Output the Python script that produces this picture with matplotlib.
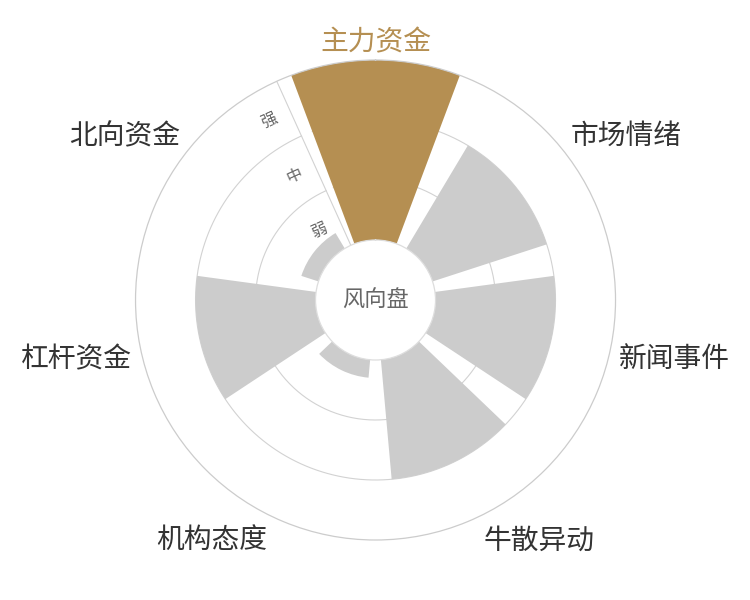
"""
风向盘 rose chart (polar bars, 7 signal categories).
"""
import numpy as np
import matplotlib
matplotlib.use("Agg")
import matplotlib.pyplot as plt

plt.rcParams["font.family"] = ["Noto Sans CJK SC", "DejaVu Sans"]

categories = ["主力资金", "市场情绪", "新闻事件", "牛散异动", "机构态度", "杠杆资金", "北向资金"]
values = [3.0, 2.0, 2.0, 2.0, 0.3, 2.0, 0.3]
highlight = "主力资金"
level_labels = ["弱", "中", "强"]

GOLD = "#b58f52"
GRAY_BAR = "#cccccc"
GRID = "#d2d2d2"
TEXT = "#333333"

n = len(categories)
step = 2 * np.pi / n
theta = np.arange(n) * step
bar_w = 0.8 * step
axis_theta = np.radians(-24.3)      # radius axis drawn just left of the top bar
rmax = 3
label_r = rmax + 10 / 60

fig = plt.figure(figsize=(7.5, 6), dpi=100)
ax = fig.add_axes([0.1807, 0.1, 0.64, 0.8], projection="polar")
ax.set_theta_zero_location("N")
ax.set_theta_direction(-1)
ax.set_rorigin(-1)
ax.set_ylim(0, rmax)
ax.set_xticks([])
ax.set_yticks([])
ax.grid(False)
ax.spines["polar"].set_color("#cccccc")
ax.spines["polar"].set_linewidth(0.9)
ax.spines["inner"].set_color("#dddddd")
ax.spines["inner"].set_linewidth(0.9)

# grid arcs (left open between the radius axis and the first bar)
arc_t = np.linspace(-bar_w / 2, axis_theta + 2 * np.pi, 400)
for r in range(1, rmax):
    ax.plot(arc_t, np.full_like(arc_t, r), color=GRID, lw=0.8, zorder=1)
ax.plot([axis_theta, axis_theta], [0, rmax], color=GRID, lw=0.8, zorder=1)

colors = [GOLD if c == highlight else GRAY_BAR for c in categories]
ax.bar(theta, values, width=bar_w, bottom=0, color=colors, edgecolor="none",
       linewidth=0, zorder=2)

# level labels along the radius axis
rot = 24.3
for i, lab in enumerate(level_labels):
    ax.annotate(lab, xy=(axis_theta, i + 0.45), xytext=(-15.0, -6.8),
                textcoords="offset points", ha="center", va="center",
                rotation=rot, fontsize=11.5, color="#666666", zorder=3)

# category labels around the outside
for t, cat in zip(theta, categories):
    sx, cy = np.sin(t), np.cos(t)
    ha = "center" if abs(sx) < 0.3 else ("left" if sx > 0 else "right")
    va = "center_baseline" if abs(cy) < 0.3 else ("baseline" if cy > 0 else "top")
    ax.text(t, label_r, cat, ha=ha, va=va, fontsize=20,
            color=GOLD if cat == highlight else TEXT, clip_on=False)

ax.text(0.5, 0.5, "风向盘", transform=ax.transAxes, ha="center", va="center",
        fontsize=16, color="#666666")

fig.savefig("out.png", dpi=100, facecolor="white")
